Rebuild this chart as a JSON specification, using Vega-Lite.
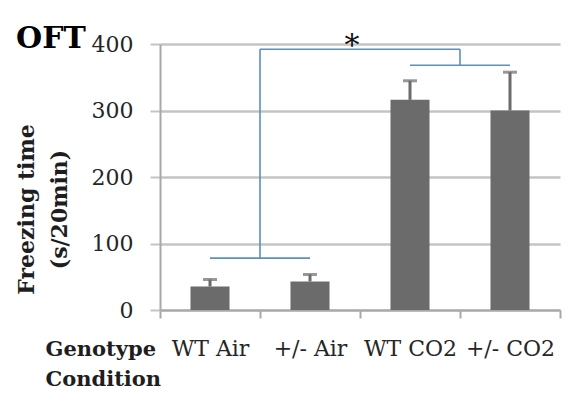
{
  "$schema": "https://vega.github.io/schema/vega-lite/v6.json",
  "autosize": {"type": "none"},
  "width": 400,
  "height": 266,
  "padding": {"left": 160, "top": 44, "right": 14, "bottom": 89},
  "background": "white",
  "config": {
    "view": {"stroke": null},
    "axis": {"labelFont": "DejaVu Serif", "titleFont": "DejaVu Serif"}
  },
  "title": {
    "text": "OFT",
    "anchor": "start",
    "frame": "group",
    "dx": -144,
    "dy": 47,
    "offset": 0,
    "font": "DejaVu Serif",
    "fontSize": 30,
    "fontWeight": "bold",
    "color": "black",
    "baseline": "alphabetic"
  },
  "datasets": {
    "bars": [
      {"group": "WT Air", "freezing": 35.3, "upper": 45.9},
      {"group": "+/- Air", "freezing": 42.9, "upper": 53.4},
      {"group": "WT CO2", "freezing": 316, "upper": 344.7},
      {"group": "+/- CO2", "freezing": 300, "upper": 357.6}
    ],
    "brackets": [
      {"x1": 0.5, "x2": 1.5, "y1": 78, "y2": 78},
      {"x1": 1.0, "x2": 1.0, "y1": 78, "y2": 392},
      {"x1": 1.0, "x2": 3.0, "y1": 392, "y2": 392},
      {"x1": 3.0, "x2": 3.0, "y1": 392, "y2": 368},
      {"x1": 2.5, "x2": 3.5, "y1": 368, "y2": 368}
    ],
    "star": [{"x": 1.92, "y": 406, "label": "*"}]
  },
  "layer": [
    {
      "data": {"name": "bars"},
      "layer": [
        {
          "mark": {"type": "bar", "color": "#6b6b6b", "size": 39},
          "encoding": {
            "x": {
              "field": "group",
              "type": "nominal",
              "sort": ["WT Air", "+/- Air", "WT CO2", "+/- CO2"],
              "scale": {"paddingInner": 0, "paddingOuter": 0},
              "axis": {
                "title": ["Genotype", "Condition"],
                "titleFontSize": 21,
                "titleFontWeight": "bold",
                "titleColor": "#1e1e1e",
                "titleAlign": "left",
                "titleAnchor": "start",
                "titleAngle": 0,
                "titleBaseline": "alphabetic",
                "titleX": -115,
                "titleY": 45,
                "titleLineHeight": 30,
                "labelAngle": 0,
                "labelFontSize": 22,
                "labelColor": "#262626",
                "labelBaseline": "alphabetic",
                "labelPadding": 37,
                "tickBand": "extent",
                "tickSize": 8,
                "tickWidth": 2,
                "tickColor": "#a8a8a8",
                "domainColor": "#a8a8a8",
                "domainWidth": 2,
                "grid": false
              }
            },
            "y": {
              "field": "freezing",
              "type": "quantitative",
              "scale": {"domain": [0, 400], "nice": false},
              "axis": {
                "title": ["Freezing time", "(s/20min)"],
                "titleFontSize": 22,
                "titleFontWeight": "bold",
                "titleColor": "#1e1e1e",
                "titleAngle": -90,
                "titleAlign": "center",
                "titleBaseline": "top",
                "titleX": -144,
                "titleY": 165,
                "titleLineHeight": 33,
                "values": [0, 100, 200, 300, 400],
                "labelFontSize": 22,
                "labelColor": "#262626",
                "labelPadding": 17,
                "tickSize": 10,
                "tickWidth": 2,
                "tickColor": "#c4c4c4",
                "domainColor": "#a8a8a8",
                "domainWidth": 2,
                "grid": true,
                "gridColor": "#c4c4c4",
                "gridWidth": 2.5
              }
            }
          }
        },
        {
          "mark": {"type": "rule", "color": "#6b6b6b", "strokeWidth": 3},
          "encoding": {
            "x": {"field": "group", "type": "nominal", "sort": ["WT Air", "+/- Air", "WT CO2", "+/- CO2"]},
            "y": {"field": "freezing", "type": "quantitative"},
            "y2": {"field": "upper"}
          }
        },
        {
          "mark": {"type": "tick", "color": "#6b6b6b", "size": 14, "thickness": 3, "orient": "horizontal"},
          "encoding": {
            "x": {"field": "group", "type": "nominal", "sort": ["WT Air", "+/- Air", "WT CO2", "+/- CO2"]},
            "y": {"field": "upper", "type": "quantitative"}
          }
        }
      ]
    },
    {
      "data": {"name": "brackets"},
      "mark": {"type": "rule", "color": "#5b8fc2", "strokeWidth": 1.6},
      "encoding": {
        "x": {"field": "x1", "type": "quantitative", "scale": {"domain": [0, 4], "nice": false, "zero": false}, "axis": null},
        "x2": {"field": "x2"},
        "y": {"field": "y1", "type": "quantitative"},
        "y2": {"field": "y2"}
      }
    },
    {
      "data": {"name": "star"},
      "mark": {"type": "text", "font": "DejaVu Serif", "fontSize": 30, "color": "#111111", "baseline": "middle", "align": "center", "dy": 6},
      "encoding": {
        "x": {"field": "x", "type": "quantitative", "scale": {"domain": [0, 4], "nice": false, "zero": false}, "axis": null},
        "y": {"field": "y", "type": "quantitative"},
        "text": {"field": "label"}
      }
    }
  ],
  "resolve": {"scale": {"x": "independent"}}
}
